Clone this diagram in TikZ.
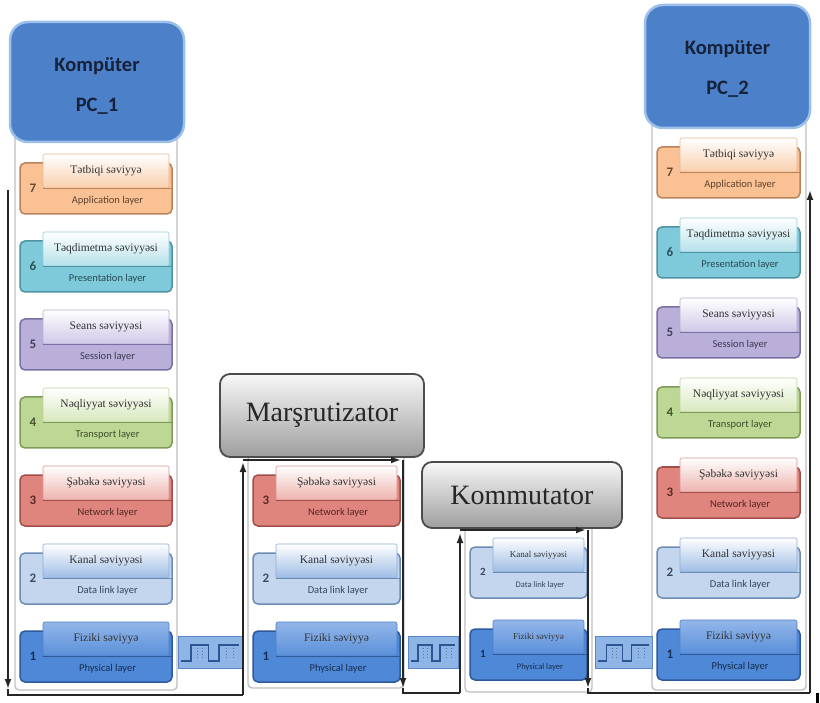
\documentclass[tikz,border=0pt]{standalone}
\usepackage{fontspec}
\setmainfont{Liberation Serif}
\newfontfamily\carlito{Carlito}
\usetikzlibrary{arrows.meta}

% layer colours: body fill, tab gradient (top/bottom), dark edge
\definecolor{app}{HTML}{FAC294}     \definecolor{appTop}{HTML}{FFFFFF}  \definecolor{appBot}{HTML}{F9CFAD}  \definecolor{appDark}{HTML}{B9825A}
\definecolor{pres}{HTML}{7ECADA}    \definecolor{presTop}{HTML}{FFFFFF} \definecolor{presBot}{HTML}{B5E1EB} \definecolor{presDark}{HTML}{4F93A3}
\definecolor{sess}{HTML}{B9AFD9}    \definecolor{sessTop}{HTML}{FFFFFF} \definecolor{sessBot}{HTML}{D0C8E8} \definecolor{sessDark}{HTML}{7A70A3}
\definecolor{trans}{HTML}{BDD794}   \definecolor{transTop}{HTML}{FFFFFF}\definecolor{transBot}{HTML}{D7E8BC}\definecolor{transDark}{HTML}{7F9A58}
\definecolor{net}{HTML}{E0847E}     \definecolor{netTop}{HTML}{FFFFFF}  \definecolor{netBot}{HTML}{EEB3AE}  \definecolor{netDark}{HTML}{A44E49}
\definecolor{dlink}{HTML}{C3D6EE}   \definecolor{dlinkTop}{HTML}{FFFFFF}\definecolor{dlinkBot}{HTML}{9DBCE5}\definecolor{dlinkDark}{HTML}{6C8BB5}
\definecolor{phys}{HTML}{4F88D6}    \definecolor{physTop}{HTML}{93B6E9} \definecolor{physBot}{HTML}{5A90DA} \definecolor{physDark}{HTML}{2C5A9C}
\definecolor{pcblue}{HTML}{4C80C8}
\definecolor{pcrim}{HTML}{9DC0EA}
\definecolor{pctext}{HTML}{16213A}
\definecolor{stripfill}{HTML}{8FB5E6}
\definecolor{stripedge}{HTML}{5A87C8}
\definecolor{wavecol}{HTML}{2E5593}

\tikzset{
  panel/.style={draw=black!25, fill=white, line width=1.3pt, rounded corners=4pt, inner sep=0pt},
  pchead/.style={draw=pcrim, fill=pcblue, line width=2.5pt, rounded corners=18pt, inner sep=0pt},
  pctitle/.style={inner sep=0pt, text=pctext, align=center,
    font={\carlito\bfseries\fontsize{20.5}{40}\selectfont}},
  devhead/.style={draw=black!70, line width=1.8pt, rounded corners=10pt, inner sep=0pt,
    top color=black!3, bottom color=black!38, text=black!85, font={\fontsize{28}{30}\selectfont}},
  layerbody/.style={rectangle, rounded corners=5pt, minimum height=51pt, inner sep=0pt, line width=1.5pt},
  layertab/.style={rectangle, rounded corners=2pt, minimum height=34pt, inner sep=0pt, line width=0.6pt},
  layernum/.style={font={\carlito\bfseries\fontsize{13}{13}\selectfont}, inner sep=0pt},
  toptext/.style={font={\fontsize{11.5}{12}\selectfont}, text=black!80, inner sep=0pt},
  bottext/.style={font={\carlito\fontsize{10.5}{11}\selectfont}, inner sep=0pt},
  strip/.style={draw=stripedge, fill=stripfill, line width=1pt, minimum height=32pt, inner sep=0pt},
  wave/.style={draw=wavecol, line width=1.4pt},
  flow/.style={draw=black!85, line width=1.8pt},
  flowtip/.style={flow, -{Latex[length=10pt,width=7pt]}}
}

% one OSI layer box: name, left x, right x, top y, number, colour key, upper text, lower text
\newcommand\osilayer[8]{%
  \node[layerbody, fill=#6, draw=#6Dark, minimum width={(#3-#2)*1pt}] (#1) at ({(#2+#3)/2},{#4+34.5}) {};
  \node[layertab, top color=#6Top, bottom color=#6Bot, draw=#6Bot!70!#6Dark, minimum width={(#3-#2-26)*1pt}] (#1-tab) at ({(#2+#3)/2+10},{#4+17}) {};
  \draw[#6Dark, line width=1.2pt] (#1-tab.south west) -- (#1-tab.south -| #1.east);
  \node[layernum, text=#6Dark!55!black] (#1-num) at ({#2+13},{#4+34}) {#5};
  \node[toptext] (#1-up) at (#1-tab.center) {#7};
  \node[bottext, text=#6Dark!50!black] (#1-lo) at ({(#2+#3)/2+11.5},{#4+47}) {#8};
}

% cable strip with a square wave: name, left x, right x
\newcommand\signalstrip[3]{%
  \node[strip, minimum width={(#3-#2)*1pt}] (#1) at ({(#2+#3)/2},652) {};
  \draw[wave] ({#2+3},661) -- ({#2+0.2*(#3-#2)},661) -- ++(0,-16) -- ({#2+0.48*(#3-#2)},645)
     -- ++(0,16) -- ({#2+0.64*(#3-#2)},661) -- ++(0,-16) -- ({#3-3},645);
  \foreach \f in {0.3,0.38,0.76,0.86}
    \draw[wavecol!80, line width=1pt, dotted] ({#2+\f*(#3-#2)},648) -- ({#2+\f*(#3-#2)},659);
}

\begin{document}
\begin{tikzpicture}[x=1pt, y=-1pt]
\useasboundingbox (0,0) rectangle (820,703);
\fill[white] (0,0) rectangle (820,703);

% column panels
\node[panel, minimum width=162pt, minimum height=560pt] (pc1-panel) at (96,410) {};
\node[panel, minimum width=156pt, minimum height=233pt] (rt-panel) at (326,571.5) {};
\node[panel, minimum width=127pt, minimum height=167pt] (sw-panel) at (528.5,608.5) {};
\node[panel, minimum width=154pt, minimum height=570pt] (pc2-panel) at (729,405) {};

% headers
\node[pchead, minimum width=174pt, minimum height=120pt] (pc1) at (97,82) {};
\node[pctitle] (pc1-text) at (97,86) {Kompüter\\PC\_1};
\node[pchead, minimum width=165pt, minimum height=123pt] (pc2) at (727.5,66.5) {};
\node[pctitle] (pc2-text) at (727.5,69) {Kompüter\\PC\_2};
\node[devhead, minimum width=204pt, minimum height=83pt] (router) at (322,415.5) {Marşrutizator};
\node[devhead, minimum width=200pt, minimum height=66pt] (switch) at (522,495) {Kommutator};

% PC_1 stack
\osilayer{a7}{20}{172}{154}{7}{app}{Tətbiqi səviyyə}{Application layer}
\osilayer{a6}{20}{172}{232}{6}{pres}{Təqdimetmə səviyyəsi}{Presentation layer}
\osilayer{a5}{20}{172}{310}{5}{sess}{Seans səviyyəsi}{Session layer}
\osilayer{a4}{20}{172}{388}{4}{trans}{Nəqliyyat səviyyəsi}{Transport layer}
\osilayer{a3}{20}{172}{466}{3}{net}{Şəbəkə səviyyəsi}{Network layer}
\osilayer{a2}{20}{172}{544}{2}{dlink}{Kanal səviyyəsi}{Data link layer}
\osilayer{a1}{20}{172}{622}{1}{phys}{Fiziki səviyyə}{Physical layer}

% router stack
\osilayer{r3}{253}{400}{466}{3}{net}{Şəbəkə səviyyəsi}{Network layer}
\osilayer{r2}{253}{400}{544}{2}{dlink}{Kanal səviyyəsi}{Data link layer}
\osilayer{r1}{253}{400}{622}{1}{phys}{Fiziki səviyyə}{Physical layer}

% switch stack (smaller lettering)
\begin{scope}[toptext/.append style={font={\fontsize{9}{10}\selectfont}},
              bottext/.append style={font={\carlito\fontsize{8.5}{9}\selectfont}},
              layernum/.append style={font={\carlito\bfseries\fontsize{11}{11}\selectfont}}]
\osilayer{s2}{470}{587}{538}{2}{dlink}{Kanal səviyyəsi}{Data link layer}
\osilayer{s1}{470}{587}{620}{1}{phys}{Fiziki səviyyə}{Physical layer}
\end{scope}

% PC_2 stack
\osilayer{b7}{657}{800}{138}{7}{app}{Tətbiqi səviyyə}{Application layer}
\osilayer{b6}{657}{800}{218}{6}{pres}{Təqdimetmə səviyyəsi}{Presentation layer}
\osilayer{b5}{657}{800}{298}{5}{sess}{Seans səviyyəsi}{Session layer}
\osilayer{b4}{657}{800}{378}{4}{trans}{Nəqliyyat səviyyəsi}{Transport layer}
\osilayer{b3}{657}{800}{458}{3}{net}{Şəbəkə səviyyəsi}{Network layer}
\osilayer{b2}{657}{800}{538}{2}{dlink}{Kanal səviyyəsi}{Data link layer}
\osilayer{b1}{657}{800}{620}{1}{phys}{Fiziki səviyyə}{Physical layer}

% cables between the devices
\signalstrip{cab1}{178}{242}
\signalstrip{cab2}{408}{458}
\signalstrip{cab3}{595}{652}

% data path through the stacks
\coordinate (p0) at (8,190);
\coordinate (p1) at (8,689);
\coordinate (p1b) at (8,695);
\coordinate (p2) at (243,695);
\coordinate (p3) at (243,462);
\coordinate (p3b) at (243,460);
\coordinate (p4) at (401,460);
\coordinate (p4b) at (403,460);
\coordinate (p5) at (403,688);
\coordinate (p5b) at (403,693);
\coordinate (p6) at (460,693);
\coordinate (p7) at (460,533);
\coordinate (p7b) at (460,530);
\coordinate (p8) at (586,530);
\coordinate (p8b) at (588,530);
\coordinate (p9) at (588,688);
\coordinate (p9b) at (588,693);
\coordinate (p10) at (810,693);
\coordinate (p11) at (810,190);
\coordinate (m0) at (817,693);
\coordinate (m1) at (817,703);

\draw[flowtip] (p0) -- (p1);
\draw[flow] (p1) -- (p1b) -- (p2);
\draw[flowtip] (p2) -- (p3);
\draw[flowtip] (p3b) -- (p4);
\draw[flowtip] (p4b) -- (p5);
\draw[flow] (p5) -- (p5b) -- (p6);
\draw[flowtip] (p6) -- (p7);
\draw[flowtip] (p7b) -- (p8);
\draw[flowtip] (p8b) -- (p9);
\draw[flow] (p9) -- (p9b) -- (p10);
\draw[flowtip] (p10) -- (p11);
\draw[black, line width=3pt] (m0) -- (m1);
\end{tikzpicture}
\end{document}
